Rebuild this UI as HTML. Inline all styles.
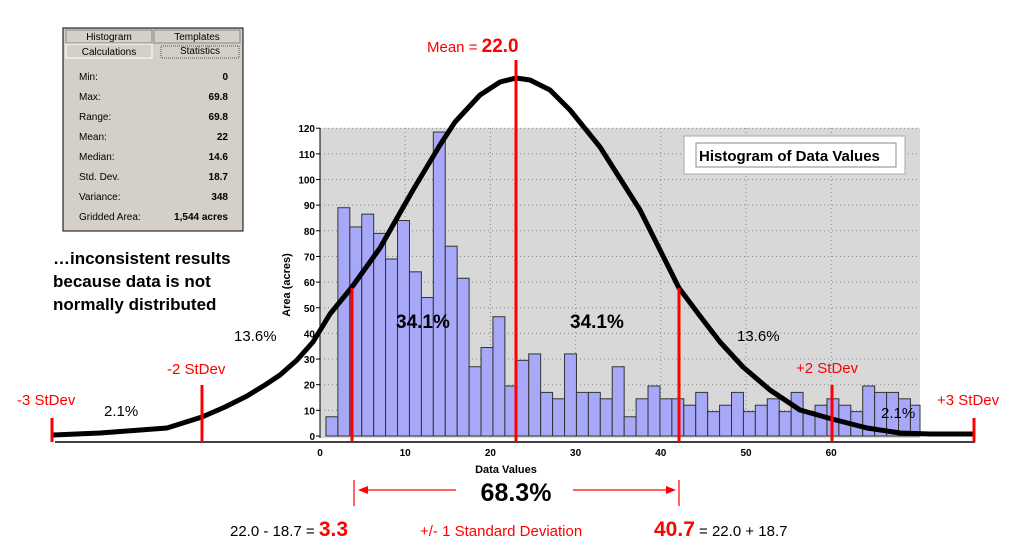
<!DOCTYPE html>
<html><head><meta charset="utf-8"><style>
body{margin:0;background:#fff;width:1024px;height:551px;overflow:hidden;font-family:"Liberation Sans",Arial,sans-serif}
svg text{font-family:"Liberation Sans",Arial,sans-serif}
</style></head><body>
<svg id="c" width="1024" height="551">
<rect x="320" y="128" width="600" height="310" fill="#d8d8d8"/>
<g id="grid"></g><g id="bars"></g><g id="axes"></g>
<g>
<rect x="684" y="136" width="221" height="38" fill="#fff" stroke="#aaa"/>
<rect x="696" y="143" width="200" height="24" fill="#fff" stroke="#888"/>
<text x="699" y="161" font-size="15" font-weight="bold">Histogram of Data Values</text>
</g>
<text transform="translate(290,285) rotate(-90)" text-anchor="middle" font-size="11" font-weight="bold">Area (acres)</text>
<text x="506" y="473" text-anchor="middle" font-size="11" font-weight="bold">Data Values</text>
<line x1="55" y1="442" x2="975" y2="442" stroke="#000" stroke-width="1.5"/>
<path id="curve" fill="none" stroke="#000" stroke-width="5" stroke-linejoin="round"/>
<g stroke="#f00" stroke-width="3">
<line x1="52" y1="418" x2="52" y2="442"/>
<line x1="202" y1="385" x2="202" y2="442"/>
<line x1="352" y1="288" x2="352" y2="442"/>
<line x1="516" y1="60" x2="516" y2="442"/>
<line x1="679" y1="288" x2="679" y2="442"/>
<line x1="832" y1="385" x2="832" y2="442"/>
<line x1="974" y1="418" x2="974" y2="442"/>
</g>
<g fill="#f00" font-size="15">
<text x="17" y="405">-3 StDev</text>
<text x="167" y="374">-2 StDev</text>
<text x="796" y="373">+2 StDev</text>
<text x="937" y="405">+3 StDev</text>
<text x="427" y="52">Mean = <tspan font-size="19" font-weight="bold">22.0</tspan></text>
</g>
<g font-size="15" fill="#000">
<text x="104" y="416">2.1%</text>
<text x="234" y="341">13.6%</text>
<text x="737" y="341">13.6%</text>
<text x="881" y="418">2.1%</text>
<text x="396" y="328" font-size="19" font-weight="bold">34.1%</text>
<text x="570" y="328" font-size="19" font-weight="bold">34.1%</text>
</g>
<g font-size="17" font-weight="bold">
<text x="53" y="264">…inconsistent  results</text>
<text x="53" y="287">because data is not</text>
<text x="53" y="310">normally distributed</text>
</g>
<g stroke="#f00" stroke-width="1.2" fill="#f00">
<line x1="354" y1="480" x2="354" y2="506"/><line x1="679" y1="480" x2="679" y2="506"/>
<line x1="360" y1="490" x2="456" y2="490"/>
<line x1="573" y1="490" x2="672" y2="490"/>
<polygon points="358,490 368,486 368,494" stroke="none"/><polygon points="676,490 666,486 666,494" stroke="none"/>
</g>
<text x="516" y="501" text-anchor="middle" font-size="25" font-weight="bold">68.3%</text>
<text x="230" y="536" font-size="15">22.0 - 18.7 = <tspan fill="#f00" font-size="21" font-weight="bold">3.3</tspan></text>
<text x="420" y="536" font-size="15" fill="#f00">+/- 1 Standard Deviation</text>
<text x="654" y="536" font-size="15"><tspan fill="#f00" font-size="21" font-weight="bold">40.7</tspan> = 22.0 + 18.7</text>
<g>
<rect x="63" y="28" width="180" height="203" fill="#d4d0c8" stroke="#000"/>
<rect x="66" y="30" width="86" height="13" fill="#d4d0c8" stroke="#888"/>
<rect x="154" y="30" width="86" height="13" fill="#d4d0c8" stroke="#888"/>
<rect x="66" y="44" width="86" height="14" fill="#d4d0c8" stroke="#fff"/>
<rect x="161" y="46" width="78" height="12" fill="#d4d0c8" stroke="#555" stroke-dasharray="1,1"/>
<g font-size="10" fill="#000">
<text x="109" y="40" text-anchor="middle">Histogram</text>
<text x="197" y="40" text-anchor="middle">Templates</text>
<text x="109" y="55" text-anchor="middle">Calculations</text>
<text x="200" y="54" text-anchor="middle">Statistics</text>
</g>
<g id="stats" font-size="10"></g>
</g>
</svg>
<script>
const NS='http://www.w3.org/2000/svg';
const binStart=0.7, binWidth=1.4;
const counts=[7.5,89,81.5,86.5,79,69,84,64,54,118.5,74,61.5,27,34.5,46.5,19.5,29.5,32,17,14.5,32,17,17,14.5,27,7.5,14.5,19.5,14.5,14.5,12,17,9.5,12,17,9.5,12,14.5,9.5,17,9.5,12,14.5,12,9.5,19.5,17,17,14.5,12];
const yTicks=[0,10,20,30,40,50,60,70,80,90,100,110,120];
const xTicks=[0,10,20,30,40,50,60];
const curveX=[53,100,127,167,202,225,247,265,280,297,313,330,352,380,413,440,455,480,500,516,530,550,570,600,640,679,700,720,743,770,800,832,867,900,930,975];
const curveY=[435,433,431,428,417,407,396,385,375,360,342,314,287,248,190,145,122,95,82,78,80,90,110,147,210,288,316,342,367,390,410,419,428,433,434,434];
const statLabels=['Min:','Max:','Range:','Mean:','Median:','Std. Dev.','Variance:','Gridded Area:'];
const statValues=['0','69.8','69.8','22','14.6','18.7','348','1,544 acres'];
const X0=320,XS=8.52,Y0=436,YS=2.565,XR=920;
const xs=v=>X0+v*XS, ys=v=>Y0-v*YS;
function mk(t,a,p){const e=document.createElementNS(NS,t);for(const k in a)e.setAttribute(k,a[k]);p.appendChild(e);return e;}
const grid=document.getElementById('grid'),axes=document.getElementById('axes'),bars=document.getElementById('bars');
yTicks.forEach(v=>{
 if(v>0){const g=mk('line',{x1:X0,x2:XR,y1:ys(v),y2:ys(v),stroke:'#888','stroke-dasharray':'1,3'},grid);
 
 }
 mk('line',{x1:X0-4,x2:X0,y1:ys(v),y2:ys(v),stroke:'#000'},axes);
 const t=mk('text',{x:X0-5,y:ys(v)+4,'text-anchor':'end','font-size':10,'font-weight':'bold'},axes);t.textContent=v;
 
 
});
xTicks.forEach(v=>{
 if(v>0){const g=mk('line',{x1:xs(v),x2:xs(v),y1:128,y2:438,stroke:'#888','stroke-dasharray':'1,3'},grid);
 
 }
 const t=mk('text',{x:xs(v),y:456,'text-anchor':'middle','font-size':10,'font-weight':'bold'},axes);t.textContent=v;
 
 
});
mk('line',{x1:X0,x2:X0,y1:128,y2:438,stroke:'#000'},axes);
counts.forEach((c,i)=>{
 const x1=xs(binStart+i*binWidth),x2=Math.min(XR,xs(binStart+(i+1)*binWidth));
 const r=mk('rect',{x:x1,y:ys(c),width:x2-x1,height:c*YS,fill:'#a8a8f8',stroke:'#333','stroke-width':1},bars);
 
 
});
document.getElementById('curve').setAttribute('d',curveX.map((x,i)=>(i?'L':'M')+x+' '+curveY[i]).join(' '));
const st=document.getElementById('stats');
statLabels.forEach((l,i)=>{
 const y=80+i*20;
 const a=mk('text',{x:79,y:y},st);a.textContent=l;
 
 
 const b=mk('text',{x:228,y:y,'text-anchor':'end','font-weight':'bold'},st);b.textContent=statValues[i];
 
 
});
</script>
</body></html>
